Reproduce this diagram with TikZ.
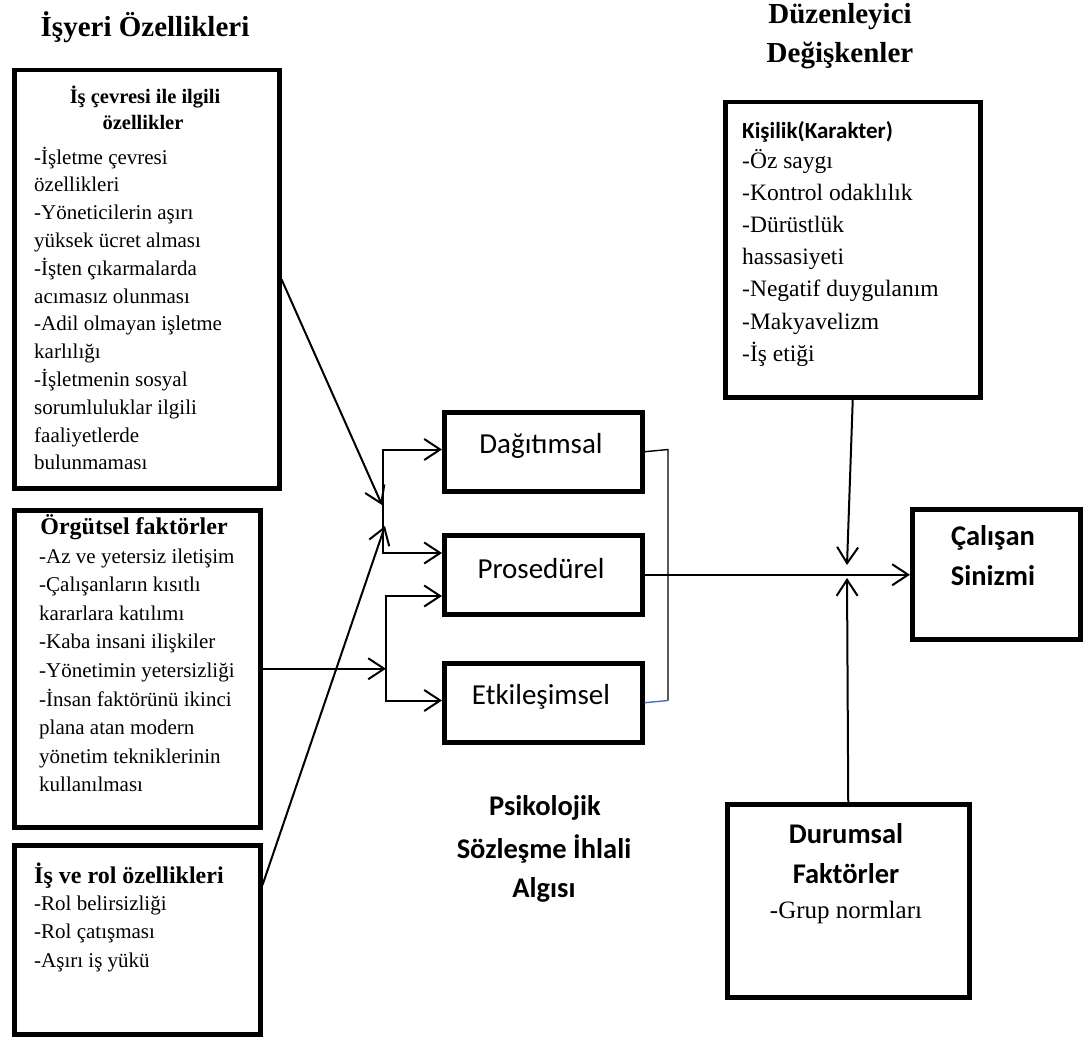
\documentclass[tikz,border=0pt]{standalone}
\usepackage{fontspec}
\setmainfont{Liberation Serif}
\newfontfamily\calib{Carlito}
\usetikzlibrary{arrows.meta,calc}
\definecolor{wordblue}{RGB}{68,114,196}
\begin{document}
\begin{tikzpicture}[x=1pt,y=-1pt,
  box/.style={draw, line width=4.5pt, inner sep=0pt, anchor=north west},
  conn/.style={line width=2pt},
  thinconn/.style={line width=1.4pt},
  arr/.style={conn, -{Straight Barb[length=16pt,width=21pt]}},
  dblarr/.style={conn, {Straight Barb[length=16pt,width=21pt]}-{Straight Barb[length=16pt,width=21pt]}},
  titletxt/.style={font=\fontsize{29}{32}\selectfont\bfseries, inner sep=0pt},
  bodytxt/.style={font=\fontsize{21}{24}\selectfont, anchor=base west, inner sep=0pt},
  kbodytxt/.style={font=\fontsize{23.5}{26}\selectfont, anchor=base west, inner sep=0pt},
  mtxt/.style={font=\calib\fontsize{29}{32}\selectfont, inner sep=0pt},
  btxt/.style={font=\calib\bfseries\fontsize{28.5}{32}\selectfont, inner sep=0pt}
]
\useasboundingbox (0,0) rectangle (1086,1038);

% titles
\node[titletxt] (T1) at (145,27) {İşyeri Özellikleri};
\node[titletxt] (T2a) at (840,17) {Düzenleyici};
\node[titletxt] (T2b) at (840,55) {Değişkenler};

% boxes
\node[box, minimum width=265pt, minimum height=418pt] (b1) at (12,68) {};
\node[box, minimum width=246pt, minimum height=317pt] (b2) at (12,508) {};
\node[box, minimum width=246pt, minimum height=189pt] (b3) at (12,843) {};
\node[box, minimum width=198pt, minimum height=79pt] (bD) at (442,410) {};
\node[box, minimum width=198pt, minimum height=79pt] (bP) at (442,533) {};
\node[box, minimum width=198pt, minimum height=79pt] (bE) at (442,661) {};
\node[box, minimum width=255pt, minimum height=295pt] (bK) at (723,100) {};
\node[box, minimum width=168pt, minimum height=130pt] (bC) at (910,507) {};
\node[box, minimum width=242pt, minimum height=193pt] (bR) at (725,802) {};

% box 1 text
\node[font=\fontsize{20.5}{24}\selectfont\bfseries, inner sep=0pt, anchor=base] (h1a) at (145,103) {İş çevresi ile ilgili};
\node[font=\fontsize{20.5}{24}\selectfont\bfseries, inner sep=0pt, anchor=base] (h1b) at (143,129) {özellikler};
\foreach \t [count=\i] in {-İşletme çevresi,özellikleri,-Yöneticilerin aşırı,yüksek ücret alması,-İşten çıkarmalarda,acımasız olunması,-Adil olmayan işletme,karlılığı,-İşletmenin sosyal,sorumluluklar ilgili,faaliyetlerde,bulunmaması}
  \node[bodytxt] (l1-\i) at (34,{164+27.8*(\i-1)}) {\t};

% box 2 text
\node[font=\fontsize{24}{26}\selectfont\bfseries, inner sep=0pt, anchor=base] (h2) at (134,534) {Örgütsel faktörler};
\foreach \t [count=\i] in {-Az ve yetersiz iletişim,-Çalışanların kısıtlı,kararlara katılımı,-Kaba insani ilişkiler,-Yönetimin yetersizliği,-İnsan faktörünü ikinci,plana atan modern,yönetim tekniklerinin,kullanılması}
  \node[bodytxt] (l2-\i) at (39,{563+28.6*(\i-1)}) {\t};

% box 3 text
\node[font=\fontsize{24}{26}\selectfont\bfseries, inner sep=0pt, anchor=base west] (h3) at (34,883) {İş ve rol özellikleri};
\foreach \t [count=\i] in {-Rol belirsizliği,-Rol çatışması,-Aşırı iş yükü}
  \node[bodytxt] (l3-\i) at (34,{910+28.5*(\i-1)}) {\t};

% Kisilik text
\node[font=\calib\bfseries\fontsize{23}{26}\selectfont, anchor=base west, inner sep=0pt] (hK) at (742,139) {Kişilik(Karakter)};
\foreach \t [count=\i] in {-Öz saygı,-Kontrol odaklılık,-Dürüstlük,hassasiyeti,-Negatif duygulanım,-Makyavelizm,-İş etiği}
  \node[kbodytxt] (lK-\i) at (742,{168+32.2*(\i-1)}) {\t};

% middle labels
\node[mtxt] (tD) at (541,446) {Dağıtımsal};
\node[mtxt] (tP) at (541,569) {Prosedürel};
\node[mtxt] (tE) at (541,697) {Etkileşimsel};

\node[btxt] (ps1) at (545,808) {Psikolojik};
\node[btxt] (ps2) at (544,849) {Sözleşme İhlali};
\node[btxt] (ps3) at (544,890) {Algısı};

\node[btxt] (c1) at (993,538) {Çalışan};
\node[btxt] (c2) at (993,576) {Sinizmi};

\node[btxt] (r1) at (846,834) {Durumsal};
\node[btxt] (r2) at (846,874) {Faktörler};
\node[font=\fontsize{25}{28}\selectfont, inner sep=0pt] (r3) at (846,912) {-Grup normları};

% junction coordinates
\coordinate (jA1) at (383,449.5);
\coordinate (jA2) at (383,553);
\coordinate (mA1) at (382,505);
\coordinate (mA2) at (385,526);
\coordinate (jB1) at (386,596);
\coordinate (jB2) at (386,700.5);
\coordinate (brT) at (668,449.5);
\coordinate (brB) at (668,700.5);
\coordinate (mK) at (847,565);
\coordinate (mR) at (847,578);

% connectors
\draw[dblarr] (jA1 -| bD.west) -- (jA1) -- (jA2) -- (jA2 -| bP.west);
\draw[arr] (b1.east) -- (mA1);
\draw[arr] ($(b3.north east)+(0,42)$) -- (mA2);
\draw[dblarr] (jB1 -| bP.west) -- (jB1) -- (jB2) -- (jB2 -| bE.west);
\draw[arr] (b2.east) -- (b2.east -| jB1);
\draw[thinconn] (bD.east) -- (brT) -- (brB);
\draw[thinconn, wordblue] (brB) -- (bE.east);
\draw[arr] (bP.east) -- (bP.east -| bC.west);
\draw[arr] (bK.south) -- (mK);
\draw[arr] (bR.north) -- (mR);
\end{tikzpicture}
\end{document}
